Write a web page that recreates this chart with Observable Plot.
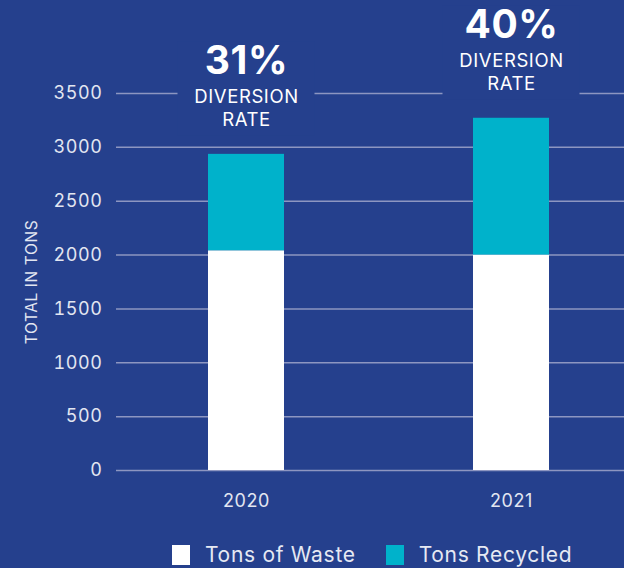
<!DOCTYPE html>
<html>
<head>
<meta charset="utf-8">
<script src="https://cdn.jsdelivr.net/npm/d3@7"></script>
<script src="https://cdn.jsdelivr.net/npm/@observablehq/plot@0.6"></script>
<style>
  html, body { margin: 0; padding: 0; background: #25408d; }
  body { width: 624px; height: 568px; overflow: hidden; font-family: Inter, "Open Sans", sans-serif; }
  #chart svg text { letter-spacing: 0.6px; }
  #legend { display: flex; align-items: center; height: 33px; padding-top: 3px; padding-left: 172px; color: #e6e9f3; font-size: 21px; letter-spacing: 0.7px; }
  .sw { width: 18px; height: 20px; display: inline-block; margin-right: 15px; }
  .item { display: flex; align-items: center; margin-right: 30px; }
</style>
</head>
<body>
<div id="chart"></div>
<div id="legend"></div>
<script>
const years = ["2020", "2021"];
const seriesNames = ["Tons of Waste", "Tons Recycled"];
const tonsWaste = [2040, 2000];
const tonsRecycled = [895, 1270];
const rateLabels = ["31%", "40%"];
const yTicks = [0, 500, 1000, 1500, 2000, 2500, 3000, 3500];

const bg = "#25408d";
const colors = ["#ffffff", "#00b2cb"];

const rows = [];
years.forEach((yr, i) => {
  rows.push({year: yr, series: seriesNames[0], value: tonsWaste[i]});
  rows.push({year: yr, series: seriesNames[1], value: tonsRecycled[i]});
});
const annot = years.map((yr, i) => ({year: yr, total: tonsWaste[i] + tonsRecycled[i], rate: rateLabels[i]}));

const font = "Inter, 'Open Sans', sans-serif";
const chart = Plot.plot({
  width: 624,
  height: 535,
  marginLeft: 116,
  marginRight: 0,
  marginTop: 93,
  marginBottom: 65,
  style: {background: "transparent", color: "#e2e6f1", fontFamily: font, fontSize: "18px"},
  x: {domain: years, range: [116, 641], paddingInner: 0.713, paddingOuter: 0.347, label: null},
  y: {domain: [0, 3500], label: null},
  color: {domain: seriesNames, range: colors},
  marks: [
    Plot.ruleY(yTicks, {stroke: "#8d96c1", strokeWidth: 1.5}),
    Plot.barY(annot, {x: "year", y1: "total", y2: "total", fill: bg, insetTop: -112, insetBottom: 18, insetLeft: -30.5, insetRight: -30.5}),
    Plot.barY(rows, Plot.stackY({x: "year", y: "value", fill: "series", order: seriesNames})),
    Plot.text(annot, {x: "year", y: "total", text: "rate", dy: -93, fontSize: 39, fontWeight: 700, fill: "#ffffff"}),
    Plot.text(annot, {x: "year", y: "total", text: () => "DIVERSION", dy: -57, fontSize: 18.5, fill: "#ffffff"}),
    Plot.text(annot, {x: "year", y: "total", text: () => "RATE", dy: -34, fontSize: 18.5, fill: "#ffffff"}),
    Plot.axisY({ticks: yTicks, tickSize: 0, tickPadding: 14, tickFormat: d => String(d), label: null, fontSize: 18}),
    Plot.axisX({tickSize: 0, tickPadding: 24, label: null, fontSize: 18}),
    Plot.text(["TOTAL IN TONS"], {frameAnchor: "left", textAnchor: "middle", dx: -84, rotate: -90, fontSize: 15.5, fill: "#e2e6f1"})
  ]
});
document.getElementById("chart").appendChild(chart);

const legend = document.getElementById("legend");
seriesNames.forEach((name, i) => {
  const item = document.createElement("div");
  item.className = "item";
  const sw = document.createElement("span");
  sw.className = "sw";
  sw.style.background = colors[i];
  item.appendChild(sw);
  item.appendChild(document.createTextNode(name));
  legend.appendChild(item);
});
</script>
</body>
</html>
